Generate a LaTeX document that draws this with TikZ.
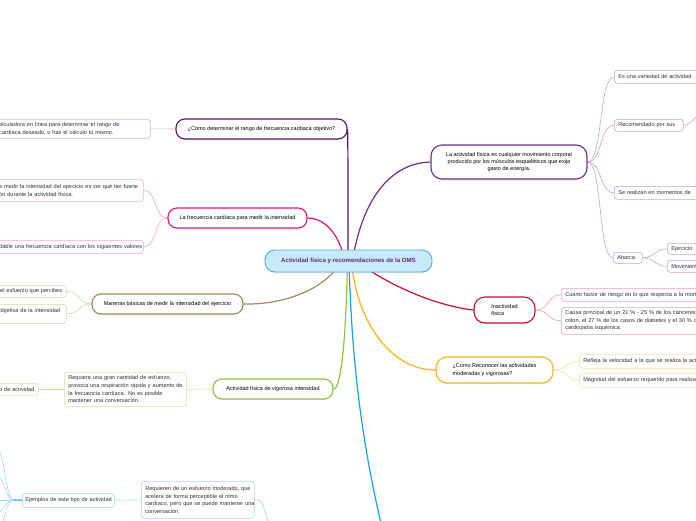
\documentclass[tikz,border=0pt]{standalone}
\usepackage{fontspec}
\setmainfont{Liberation Sans}
\usetikzlibrary{shadows,backgrounds}
\definecolor{rootF}{HTML}{C7EBFA}
\definecolor{rootB}{HTML}{4FAEE3}
\definecolor{rootT}{HTML}{5E2A84}
\definecolor{dpur}{HTML}{5B1270}
\definecolor{gpur}{HTML}{C8B8D3}
\definecolor{mpur}{HTML}{6E2D8E}
\definecolor{lpur}{HTML}{C2A5DA}
\definecolor{pinkc}{HTML}{E3166F}
\definecolor{lpink}{HTML}{F5A9C8}
\definecolor{tanc}{HTML}{A38A5F}
\definecolor{ltan}{HTML}{DDD0B7}
\definecolor{greenc}{HTML}{8CC63E}
\definecolor{lgreen}{HTML}{CDE7A6}
\definecolor{bluec}{HTML}{1AA2E6}
\definecolor{lblue}{HTML}{9DD8F6}
\definecolor{yelc}{HTML}{F8B418}
\definecolor{lyel}{HTML}{FCDDA0}
\definecolor{redc}{HTML}{C5102F}
\definecolor{lred}{HTML}{EDA2AE}
\definecolor{txt}{HTML}{333333}
\newcommand\oneline[1]{\mbox{#1}}
\tikzset{
  rootnode/.style={draw=rootB, fill=rootF, line width=0.9pt, rounded corners=10pt,
    minimum width=167pt, minimum height=22pt, inner sep=0pt, text=rootT,
    font=\fontsize{6.1}{7}\selectfont\bfseries,
    drop shadow={opacity=0.2, shadow xshift=0pt, shadow yshift=-1pt}},
  branch/.style={draw=#1, fill=white, line width=1.1pt, rounded corners=9pt,
    inner sep=0pt, text=black, font=\fontsize{5.5}{7.2}\selectfont,
    drop shadow={opacity=0.2, shadow xshift=0pt, shadow yshift=-1pt}},
  leaf/.style={draw=#1, fill=white, line width=0.6pt, rounded corners=3pt,
    inner xsep=4pt, inner ysep=0pt, text=txt, align=left, anchor=north west,
    font=\fontsize{5.6}{7.6}\selectfont},
  mainline/.style={draw=#1, line width=1.2pt},
  subline/.style={draw=#1, line width=0.6pt},
}
\begin{document}
\begin{tikzpicture}[x=1pt,y=-1pt]
\useasboundingbox (0,0) rectangle (696,520);
\clip (0,0) rectangle (696,520);
% root
\node[rootnode] (root) at (348.5,261) {Actividad física y recomendaciones de la OMS};
% branch nodes
\node[branch=dpur, minimum width=171pt, minimum height=20pt] (cd) at (261.5,129) {¿Cómo determinar el rango de frecuencia cardiaca objetivo?};
\node[branch=pinkc, minimum width=139pt, minimum height=20pt] (fc) at (237.5,218) {La frecuencia cardíaca para medir la intensidad};
\node[branch=tanc, minimum width=151pt, minimum height=20pt] (mb) at (167.5,304) {Maneras básicas de medir la intensidad del ejercicio};
\node[branch=greenc, minimum width=120pt, minimum height=20pt] (vi) at (273,389) {Actividad física de vigorosa intensidad};
\node[branch=mpur, minimum width=156pt, minimum height=34pt, rounded corners=11pt, align=center] (af) at (509,162) {La actividad física es cualquier movimiento corporal\\producido por los músculos esqueléticos que exija\\gasto de energía.};
\node[branch=redc, minimum width=61pt, minimum height=26pt, rounded corners=11pt, align=left] (in) at (504.5,310) {Inactividad\\física};
\node[branch=yelc, minimum width=117pt, minimum height=26pt, rounded corners=11pt, align=left] (cr) at (494.5,370) {¿Como Reconocer las actividades\\moderadas y vigorosas?};
% leaves
\node[leaf=gpur, text width=148pt, minimum height=19pt] (cd1) at (-6,119) {\oneline{\,alculadora en línea para determinar el rango de}\\\oneline{\,cardíaca deseado, o haz el cálculo tú mismo.}};
\node[leaf=lpink, text width=141pt, minimum height=22pt] (fc1) at (-6,179) {\oneline{\,e medir la intensidad del ejercicio es ver qué tan fuerte}\\\oneline{\,ón durante la actividad física.}};
\node[leaf=lpink, text width=141pt, minimum height=13pt] (fc2) at (-6,240) {\oneline{\,dable una frecuencia cardíaca con los siguientes valores}};
\node[leaf=ltan, text width=64pt, minimum height=12pt] (mb1) at (-6,285) {\oneline{\,\,el esfuerzo que percibes}};
\node[leaf=ltan, text width=64pt, minimum height=19pt] (mb2) at (-6,304) {\oneline{\,objetiva de la intensidad}\\\mbox{}};
\node[leaf=lgreen, text width=114pt, minimum height=34pt] (vi1) at (64,372) {\oneline{Requiere una gran cantidad de esfuerzo,}\\\oneline{provoca una respiración rápida y aumento de}\\\oneline{la frecuencia cardíaca. No es posible}\\\oneline{mantener una conversación.}};
\node[leaf=lgreen, text width=36pt, minimum height=12pt] (vi2) at (-6,383) {\oneline{\,o de actividad}};
\node[leaf=lpur, text width=100pt, minimum height=13pt] (af1) at (614,70) {\oneline{Es una variedad de actividad}};
\node[leaf=lpur, text width=61pt, minimum height=12pt] (af2) at (614,119) {\oneline{Recomendado por sus}};
\node[leaf=lpur, text width=100pt, minimum height=13pt] (af3) at (614,186) {\oneline{Se realizan en momentos de}};
\node[leaf=lpur, text width=21pt, minimum height=11pt] (af4) at (613,252) {\oneline{Abarca}};
\node[leaf=lpur, text width=60pt, minimum height=11pt] (af41) at (667,243) {\oneline{Ejercicio}};
\node[leaf=lpur, text width=60pt, minimum height=12pt] (af42) at (667,260) {\oneline{Movimiento}};
\node[leaf=lred, text width=150pt, minimum height=13pt] (in1) at (561,288) {\oneline{Cuarto factor de riesgo en lo que respecta a la mortalidad}};
\node[leaf=lred, text width=150pt, minimum height=27pt] (in2) at (561,307) {\oneline{Causa principal de un 21 \% - 25 \% de los cánceres de}\\\oneline{colon, el 27 \% de los casos de diabetes y el 30 \% de}\\\oneline{cardiopatía isquémica.}};
\node[leaf=lyel, text width=150pt, minimum height=14pt] (cr1) at (579,354) {\oneline{Refleja la velocidad a la que se realiza la actividad}};
\node[leaf=lyel, text width=150pt, minimum height=14pt] (cr2) at (579,373) {\oneline{Magnitud del esfuerzo requerido para realizar}};
\node[leaf=lblue, text width=105pt, minimum height=37pt] (bl1) at (141,481) {\oneline{Requieren de un esfuerzo moderado, que}\\\oneline{acelera de forma perceptible el ritmo}\\\oneline{cardíaco, pero que se puede mantener una}\\\oneline{conversación.}};
\node[leaf=lblue, inner xsep=3pt, text width=86pt, minimum height=14pt] (bl2) at (22,493) {\oneline{Ejemplos de este tipo de actividad}};
% free ends
\coordinate (bo) at (383,532);
\coordinate (bo2) at (270,528);
\coordinate (ro) at (702,115);
\coordinate (st) at (14,500);
\coordinate (lf1) at (-10,440);
\coordinate (lf2) at (-10,472);
\coordinate (lf3) at (-10,500);
\coordinate (lf4) at (-10,515);
\coordinate (lf5) at (-10,535);
\begin{scope}[on background layer]
\fill[white] (0,0) rectangle (696,520);
% main connectors
\draw[mainline=dpur] ([xshift=-0.5pt]root.center) .. controls (348,190) and (348,140) .. (cd.east);
\draw[mainline=pinkc] ([xshift=-4pt]root.center) .. controls (340,235) and (325,218) .. (fc.east);
\draw[mainline=tanc] ([xshift=-8pt]root.center) .. controls (330,285) and (290,305) .. (mb.east);
\draw[mainline=greenc] ([xshift=-1pt]root.center) .. controls (346,340) and (341,389) .. (vi.east);
\draw[mainline=bluec] ([xshift=0.5pt]root.center) .. controls (352,380) and (366,460) .. (bo);
\draw[mainline=yelc] ([xshift=3pt]root.center) .. controls (356,320) and (390,370) .. (cr.west);
\draw[mainline=redc] ([xshift=8pt]root.center) .. controls (380,280) and (430,305) .. (in.west);
\draw[mainline=mpur] ([xshift=4pt]root.center) .. controls (362,200) and (390,163) .. (af.west);
% sub connectors
\draw[subline=gpur] (cd.west) -- (cd1.east);
\draw[subline=lpink] (fc.west) .. controls +(-14,0) and +(14,0) .. (fc1.east);
\draw[subline=lpink] (fc.west) .. controls +(-14,0) and +(14,0) .. (fc2.east);
\draw[subline=ltan] (mb.west) .. controls +(-14,0) and +(14,0) .. (mb1.east);
\draw[subline=ltan] (mb.west) .. controls +(-14,0) and +(14,0) .. (mb2.east);
\draw[subline=lgreen] (vi.west) -- (vi1.east);
\draw[subline=lgreen] (vi1.west) -- (vi2.east);
\draw[subline=lpur] (af.east) .. controls +(15,0) and +(-15,0) .. (af1.west);
\draw[subline=lpur] (af.east) .. controls +(15,0) and +(-15,0) .. (af2.west);
\draw[subline=lpur] (af.east) .. controls +(15,0) and +(-15,0) .. (af3.west);
\draw[subline=lpur] (af.east) .. controls +(15,0) and +(-15,0) .. (af4.west);
\draw[subline=lpur] (af4.east) .. controls +(12,0) and +(-12,0) .. (af41.west);
\draw[subline=lpur] (af4.east) .. controls +(12,0) and +(-12,0) .. (af42.west);
\draw[subline=lpur] (af2.east) .. controls +(8,0) and +(-8,0) .. (ro);
\draw[subline=lred] (in.east) .. controls +(14,0) and +(-14,0) .. (in1.west);
\draw[subline=lred] (in.east) .. controls +(14,0) and +(-14,0) .. (in2.west);
\draw[subline=lyel] (cr.east) .. controls +(14,0) and +(-14,0) .. (cr1.west);
\draw[subline=lyel] (cr.east) .. controls +(14,0) and +(-14,0) .. (cr2.west);
\draw[subline=lblue] (bl1.west) -- (bl2.east);
\draw[subline=lblue] (bl1.east) .. controls +(10,0) and (262,505) .. (bo2);
\draw[draw=bluec!70, line width=1.6pt] (bl2.west) -- (st);
\draw[subline=lblue] (st) .. controls (4,500) and (6,440) .. (lf1);
\draw[subline=lblue] (st) .. controls (4,500) and (6,472) .. (lf2);
\draw[subline=lblue] (st) -- (lf3);
\draw[subline=lblue] (st) .. controls (4,500) and (6,515) .. (lf4);
\draw[subline=lblue] (st) .. controls (4,500) and (6,535) .. (lf5);
\end{scope}
\end{tikzpicture}
\end{document}
